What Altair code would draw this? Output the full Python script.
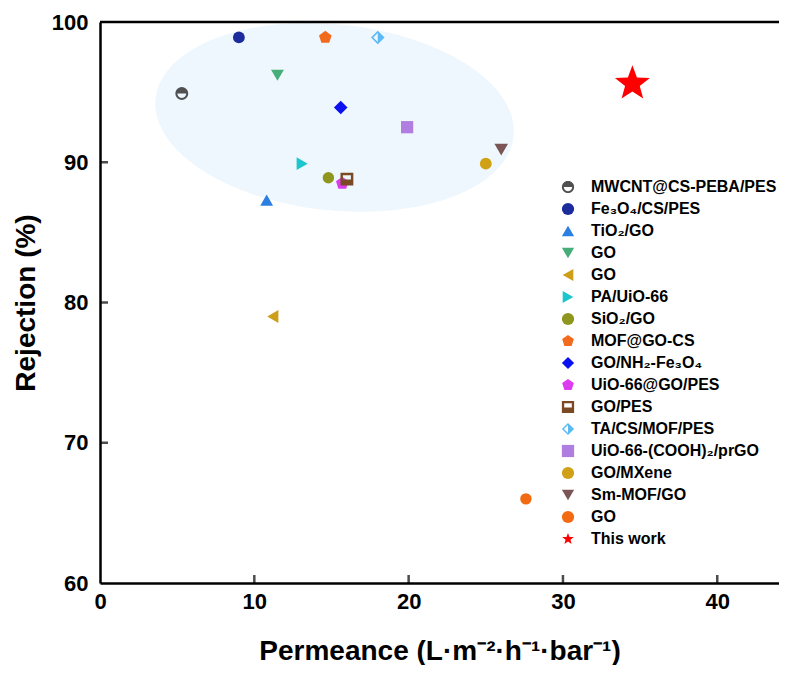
import math
import numpy as np
import pandas as pd
import altair as alt

# ---------------- data ----------------
labels = ["MWCNT@CS-PEBA/PES", "Fe₃O₄/CS/PES", "TiO₂/GO", "GO", "GO ", "PA/UiO-66",
          "SiO₂/GO", "MOF@GO-CS", "GO/NH₂-Fe₃O₄", "UiO-66@GO/PES", "GO/PES",
          "TA/CS/MOF/PES", "UiO-66-(COOH)₂/prGO", "GO/MXene", "Sm-MOF/GO", "GO  ",
          "This work"]
permeance = [5.3, 9.0, 10.8, 11.5, 11.2, 13.1, 14.8, 14.6, 15.6, 15.7, 16.0,
             18.0, 19.9, 25.0, 26.0, 27.6, 34.5]
rejection = [94.9, 98.9, 87.3, 96.2, 79.0, 89.9, 88.9, 98.9, 93.9, 88.5, 88.8,
             98.9, 92.5, 89.9, 90.9, 66.0, 95.6]
colors = ["#505050", "#1C2C9C", "#2A7FE0", "#45AE78", "#CC9E1A", "#1CC6CC",
          "#8E961E", "#F26A1C", "#0A10F0", "#DD3BF0", "#7B4A24", "#5BBAF5",
          "#B07EE0", "#D0A016", "#7B5555", "#F26A12", "#FF0000"]

x_ticks = [10, 20, 30, 40]
y_ticks = [70, 80, 90]
x_label_values = [0, 10, 20, 30, 40]
y_label_values = [60, 70, 80, 90, 100]

# highlight ellipse parameters (data centre, pixel semi-axes, tilt in degrees)
ell_center = [15.2, 93.2]
ell_axes_px = [180, 93]
ell_tilt_deg = -6

# ---------------- layout / style ----------------
W, H = 679, 561
XMAX = 44.0
YMIN, YMAX = 60, 100
kx, ky = W / XMAX, H / (YMAX - YMIN)
FONT = "Liberation Sans"


def poly(pts):
    return "M" + "L".join(f"{x:.3f},{y:.3f}" for x, y in pts) + "Z"


def circle_pts(r, n=28, reverse=False):
    ang = np.linspace(0, 2 * math.pi, n, endpoint=False)
    if reverse:
        ang = ang[::-1]
    return [(r * math.cos(a), r * math.sin(a)) for a in ang]


helmet = (poly(circle_pts(1.0)) + poly(circle_pts(0.68, reverse=True)) +
          poly([(math.cos(a), -math.sin(a)) for a in np.linspace(math.pi, 0, 15)]))
pentagon = poly([(math.cos(math.radians(-90 + 72 * k)), math.sin(math.radians(-90 + 72 * k)))
                 for k in range(5)])
window_sq = (poly([(-1, -1), (1, -1), (1, 1), (-1, 1)]) +
             poly([(-0.62, -0.6), (-0.62, 0.08), (0.62, 0.08), (0.62, -0.6)]))
half_diamond = (poly([(0, -1), (1, 0), (0, 1), (-1, 0)]) +
                poly([(0, -0.66), (-0.66, 0), (0, 0.66), (0.66, 0)]) +
                poly([(0, -0.66), (0.66, 0), (0, 0.66)]))
star = poly([((1.0 if k % 2 == 0 else 0.42) * math.cos(math.radians(-90 + 36 * k)),
              (1.0 if k % 2 == 0 else 0.42) * math.sin(math.radians(-90 + 36 * k)))
             for k in range(10)])

shapes = [helmet, "circle", "triangle-up", "triangle-down", "triangle-left",
          "triangle-right", "circle", pentagon, "diamond", pentagon, window_sq,
          half_diamond, "square", "circle", "triangle-down", "circle", star]
marker_sizes = [165, 140, 165, 165, 165, 165, 130, 175, 185, 175, 165, 185, 150, 140, 185, 130, 1350]

df = pd.DataFrame({"label": labels, "permeance": permeance, "rejection": rejection,
                   "msize": marker_sizes})

# ellipse as an area (upper / lower boundary for each x)
phi = math.radians(ell_tilt_deg)
A, B = ell_axes_px
c, s = math.cos(phi), math.sin(phi)
umax = math.sqrt(A * A * c * c + B * B * s * s)
us = -umax * np.cos(np.linspace(0, math.pi, 160))
qa = s * s / A ** 2 + c * c / B ** 2
rows = []
for u in us:
    qb = 2 * u * c * s * (1 / A ** 2 - 1 / B ** 2)
    qc = u * u * (c * c / A ** 2 + s * s / B ** 2) - 1
    disc = max(qb * qb - 4 * qa * qc, 0)
    v1 = (-qb + math.sqrt(disc)) / (2 * qa)
    v2 = (-qb - math.sqrt(disc)) / (2 * qa)
    rows.append({"x": ell_center[0] + u / kx,
                 "top": ell_center[1] + v1 / ky,
                 "bot": ell_center[1] + v2 / ky})
ell_df = pd.DataFrame(rows)

xscale = alt.Scale(domain=[0, XMAX], nice=False, zero=False)
yscale = alt.Scale(domain=[YMIN, YMAX], nice=False, zero=False)

xaxis = alt.Axis(values=x_label_values, ticks=False, tickSize=0, grid=False,
                 labelFont=FONT, labelFontSize=22, labelFontWeight="bold",
                 labelColor="black", labelPadding=8, labelFlush=False,
                 domainColor="black", domainWidth=2.5,
                 title="Permeance (L·m⁻²·h⁻¹·bar⁻¹)",
                 titleFont=FONT, titleFontSize=28, titleFontWeight="bold",
                 titleColor="black", titlePadding=25)
yaxis = alt.Axis(values=y_label_values, ticks=False, tickSize=0, grid=False,
                 labelFont=FONT, labelFontSize=22, labelFontWeight="bold",
                 labelColor="black", labelPadding=12, labelFlush=False,
                 domainColor="black", domainWidth=2.5, title="Rejection (%)",
                 titleFont=FONT, titleFontSize=28, titleFontWeight="bold",
                 titleColor="black", titlePadding=11)

ellipse = alt.Chart(ell_df).mark_area(color="#EEF7FD", opacity=1).encode(
    x=alt.X("x:Q", scale=xscale, axis=xaxis),
    y=alt.Y("top:Q", scale=yscale, axis=yaxis),
    y2="bot:Q",
)

legend = alt.Legend(title=None, orient="none", legendX=460, legendY=157,
                    labelFont=FONT, labelFontSize=16, labelFontWeight="bold",
                    labelColor="black", symbolSize=150, symbolStrokeWidth=0,
                    rowPadding=6, labelOffset=15, symbolOpacity=1,
                    labelLimit=400)

points = alt.Chart(df).mark_point(filled=True, opacity=1, strokeWidth=0).encode(
    x=alt.X("permeance:Q", scale=xscale),
    y=alt.Y("rejection:Q", scale=yscale),
    color=alt.Color("label:N", scale=alt.Scale(domain=labels, range=colors), legend=legend),
    shape=alt.Shape("label:N", scale=alt.Scale(domain=labels, range=shapes), legend=legend),
    size=alt.Size("msize:Q", scale=None, legend=None),
)

xt = alt.Chart(pd.DataFrame({"t": x_ticks})).mark_tick(
    orient="vertical", size=8, thickness=2.5, color="black", yOffset=-4).encode(
    x=alt.X("t:Q", scale=xscale), y=alt.datum(YMIN))
yt = alt.Chart(pd.DataFrame({"t": y_ticks})).mark_tick(
    orient="horizontal", size=8, thickness=2.5, color="black", xOffset=4).encode(
    y=alt.Y("t:Q", scale=yscale), x=alt.datum(0))
top = alt.Chart(pd.DataFrame({"a": [0]})).mark_rule(color="black", strokeWidth=2.5).encode(
    x=alt.datum(0), x2=alt.datum(XMAX), y=alt.datum(YMAX))

chart = alt.layer(ellipse, points, xt, yt, top).properties(
    width=W, height=H,
    padding={"left": 92, "top": 14, "right": 0, "bottom": 82},
    autosize=alt.AutoSizeParams(type="none"),
).configure_view(stroke=None).configure(background="white")

chart.save("out.html", embed_options={"renderer": "svg", "actions": False})
